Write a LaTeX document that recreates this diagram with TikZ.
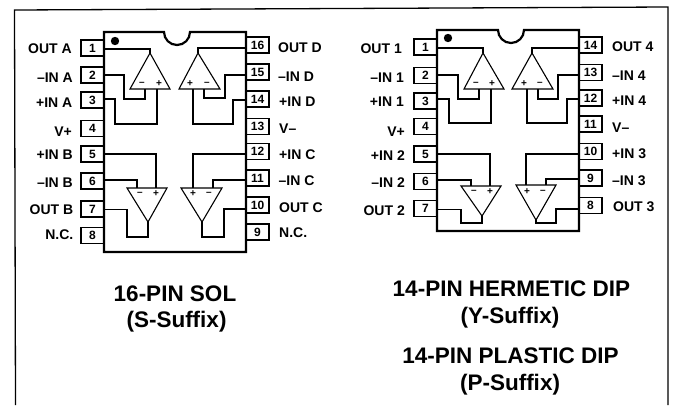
\documentclass[tikz,border=0pt]{standalone}
\usepackage{fontspec}
\setmainfont{Liberation Sans}
\tikzset{
  x=1pt,y=-1pt,
  wire/.style={line width=1.1pt,line join=miter},
  body/.style={line width=2.2pt,fill=white,line join=miter},
  frameline/.style={line width=1.3pt},
  pinbox/.style={draw,line width=1.1pt,minimum width=23pt,minimum height=16pt,inner sep=0pt,font=\fontsize{12}{13}\bfseries\selectfont},
  pinlabel/.style={inner sep=0pt,font=\fontsize{14}{15}\bfseries\selectfont},
  lbl/.style={pinlabel,anchor=east},
  lbr/.style={pinlabel,anchor=west},
  title/.style={inner sep=0pt,font=\fontsize{22.5}{24}\bfseries\selectfont},
  sign/.style={inner sep=0pt,font=\fontsize{10}{10}\bfseries\selectfont},
  amp/.style={line width=1.1pt,line join=miter}
}
\begin{document}
\begin{tikzpicture}
\useasboundingbox (0,0) rectangle (674,405);
\draw[frameline] (15.5,405) -- (14.5,10) -- (668,7) -- (668,405);
% ---------- left package pins
\foreach \n/\y/\t in {a1/48/1,a2/75/2,a3/100/3,a4/128.5/4,a5/154/5,a6/181/6,a7/209/7,a8/235.5/8}
  \node[pinbox] (\n) at (92.5,\y) {\t};
\foreach \n/\y/\t in {a16/45/16,a15/72/15,a14/99/14,a13/126.5/13,a12/151.5/12,a11/178/11,a10/205/10,a9/232/9}
  \node[pinbox] (\n) at (257.5,\y) {\t};
\draw[body] (104,32) -- (164,32) arc[start angle=180,end angle=0,radius=13] -- (246,32) -- (246,252) -- (104,252) -- cycle;
\fill (115,41) circle[radius=4.2];
% amp A
\draw[amp] (150,53) -- (130,89) -- (170,89) -- cycle;
\draw[wire] (a1.east |- 0,49) -- (150,49) -- (150,53);
\draw[wire] (a2.east |- 0,75) -- (124,75) -- (124,99) -- (145,99) -- (145,89);
\draw[wire] (a3.east |- 0,99) -- (115,99) -- (115,124) -- (157,124) -- (157,89);
\node[sign] (sa1) at (142,84) {–}; \node[sign] (sa2) at (159,84) {+};
% amp D
\draw[amp] (198,53) -- (179,89) -- (220,89) -- cycle;
\draw[wire] (a16.west |- 0,48) -- (198,48) -- (198,53);
\draw[wire] (a15.west |- 0,75) -- (225,75) -- (225,98) -- (204,98) -- (204,89);
\draw[wire] (a14.west |- 0,100) -- (233,100) -- (233,124) -- (193,124) -- (193,89);
\node[sign] (sd1) at (190,84) {+}; \node[sign] (sd2) at (207,84) {–};
% amp B
\draw[amp] (148,222) -- (127,188) -- (167,188) -- cycle;
\draw[wire] (a5.east |- 0,154) -- (156,154) -- (156,188);
\draw[wire] (a6.east |- 0,180) -- (137,180) -- (137,188);
\draw[wire] (a7.east |- 0,209.5) -- (127,209.5) -- (127,237) -- (148,237) -- (148,222);
\node[sign] (sb1) at (140,194) {–}; \node[sign] (sb2) at (156,194) {+};
% amp C
\draw[amp] (202,222) -- (181,188) -- (222,188) -- cycle;
\draw[wire] (a12.west |- 0,154) -- (193,154) -- (193,188);
\draw[wire] (a11.west |- 0,180) -- (213,180) -- (213,188);
\draw[wire] (a10.west |- 0,209) -- (224,209) -- (224,237) -- (202,237) -- (202,222);
\node[sign] (sc1) at (193,194) {+}; \node[sign] (sc2) at (209,194) {–};
% labels
\node[lbl] (la1) at (72,49) {OUT A};
\node[lbl] (la2) at (73,78) {–IN A};
\node[lbl] (la3) at (72.5,103) {+IN A};
\node[lbl] (la4) at (72,132) {V+};
\node[lbl] (la5) at (73,155) {+IN B};
\node[lbl] (la6) at (73,183) {–IN B};
\node[lbl] (la7) at (73.5,210) {OUT B};
\node[lbl] (la8) at (73.5,235) {N.C.};
\node[lbr] (la16) at (278,48) {OUT D};
\node[lbr] (la15) at (278,77) {–IN D};
\node[lbr] (la14) at (279,102) {+IN D};
\node[lbr] (la13) at (279,129) {V–};
\node[lbr] (la12) at (279,155) {+IN C};
\node[lbr] (la11) at (278.5,181) {–IN C};
\node[lbr] (la10) at (279,208) {OUT C};
\node[lbr] (la9) at (279,233) {N.C.};
% ---------- right package pins
\foreach \n/\y/\t in {b1/47/1,b2/75.5/2,b3/101/3,b4/126.5/4,b5/154/5,b6/181.5/6,b7/208.5/7}
  \node[pinbox] (\n) at (425.5,\y) {\t};
\foreach \n/\y/\t in {b14/45/14,b13/72.5/13,b12/98/12,b11/124/11,b10/151.5/10,b9/178/9,b8/205.5/8}
  \node[pinbox] (\n) at (590.5,\y) {\t};
\draw[body] (437,30) -- (498,30) arc[start angle=180,end angle=0,radius=13] -- (579,30) -- (579,231) -- (437,231) -- cycle;
\fill (448,38) circle[radius=4.2];
% amp 1
\draw[amp] (483,53) -- (464,89) -- (504,89) -- cycle;
\draw[wire] (b1.east |- 0,48) -- (483,48) -- (483,53);
\draw[wire] (b2.east |- 0,75) -- (458,75) -- (458,99) -- (479,99) -- (479,89);
\draw[wire] (b3.east |- 0,99) -- (449,99) -- (449,123) -- (491,123) -- (491,89);
\node[sign] (s11) at (476,84) {–}; \node[sign] (s12) at (492,84) {+};
% amp 4
\draw[amp] (532,53) -- (512,89) -- (553,89) -- cycle;
\draw[wire] (b14.west |- 0,48) -- (532,48) -- (532,53);
\draw[wire] (b13.west |- 0,75) -- (558,75) -- (558,99) -- (538,99) -- (538,89);
\draw[wire] (b12.west |- 0,99) -- (567,99) -- (567,123) -- (527,123) -- (527,89);
\node[sign] (s41) at (524,84) {+}; \node[sign] (s42) at (540,84) {–};
% amp 2
\draw[amp] (482,216) -- (461,186) -- (501,186) -- cycle;
\draw[wire] (b5.east |- 0,154) -- (490,154) -- (490,186);
\draw[wire] (b6.east |- 0,180) -- (471,180) -- (471,186);
\draw[wire] (b7.east |- 0,209.5) -- (461,209.5) -- (461,223) -- (482,223) -- (482,216);
\node[sign] (s21) at (474,192) {–}; \node[sign] (s22) at (490,192) {+};
% amp 3
\draw[amp] (536,220) -- (516,185) -- (556,185) -- cycle;
\draw[wire] (b10.west |- 0,154) -- (526,154) -- (526,185);
\draw[wire] (b9.west |- 0,179) -- (546,179) -- (546,185);
\draw[wire] (b8.west |- 0,209) -- (556,209) -- (556,223) -- (536,223) -- (536,220);
\node[sign] (s31) at (527,192) {+}; \node[sign] (s32) at (543,192) {–};
% labels
\node[lbl] (lb1) at (402,49) {OUT 1};
\node[lbl] (lb2) at (404,78) {–IN 1};
\node[lbl] (lb3) at (404,102) {+IN 1};
\node[lbl] (lb4) at (405,132) {V+};
\node[lbl] (lb5) at (405,156) {+IN 2};
\node[lbl] (lb6) at (405,183) {–IN 2};
\node[lbl] (lb7) at (405,211) {OUT 2};
\node[lbr] (lb14) at (612,47) {OUT 4};
\node[lbr] (lb13) at (612,76) {–IN 4};
\node[lbr] (lb12) at (612,101) {+IN 4};
\node[lbr] (lb11) at (612,128) {V–};
\node[lbr] (lb10) at (612,154) {+IN 3};
\node[lbr] (lb9) at (612,181) {–IN 3};
\node[lbr] (lb8) at (613,207) {OUT 3};
% titles
\node[title] (t1) at (175,294) {16-PIN SOL};
\node[title] (t2) at (176.5,322) {(S-Suffix)};
\node[title] (t3) at (511.5,289) {14-PIN HERMETIC DIP};
\node[title] (t4) at (510,318) {(Y-Suffix)};
\node[title] (t5) at (510.5,356) {14-PIN PLASTIC DIP};
\node[title] (t6) at (510,385) {(P-Suffix)};
\end{tikzpicture}
\end{document}
